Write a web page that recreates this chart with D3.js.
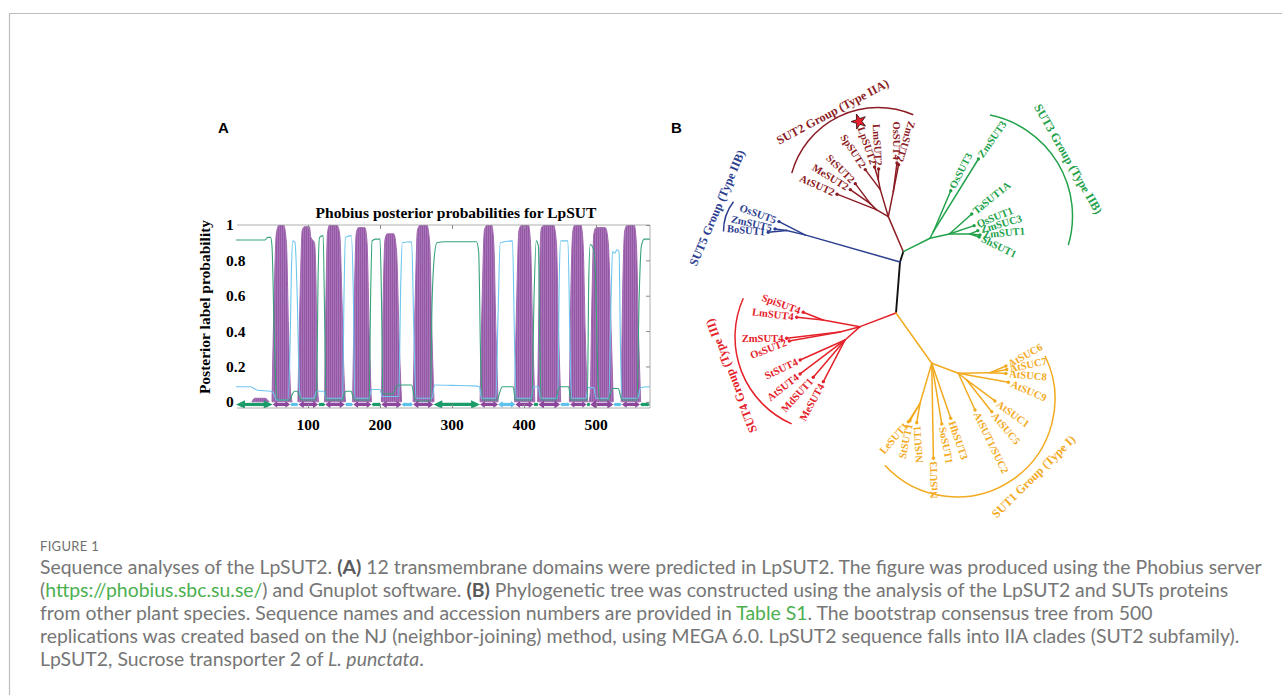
<!DOCTYPE html>
<html><head><meta charset="utf-8">
<script src="https://cdn.jsdelivr.net/npm/d3@7"></script>
<style>body{margin:0;background:#fff}svg{display:block}</style>
</head><body><svg id="c" width="1282" height="695"></svg>
<script>
// ================= DATA =================
// Panel A: Phobius posterior probabilities
const seqLength = 575;
const xTicks = [100, 200, 300, 400, 500];
const yTicks = [0, 0.2, 0.4, 0.6, 0.8, 1];
const yTickLabels = ["0", "0.2", "0.4", "0.6", "0.8", "1"];
// transmembrane posterior profiles [residue, probability]
const tmProfiles = [
  [[22,0],[26,0.02],[40,0.02],[46,0]],
  [[50,0],[53,0.6],[56,0.95],[60,1.0],[66,1.0],[70,0.9],[73,0.4],[76,0.05],[78,0]],
  [[86,0],[89,0.6],[92,0.97],[95,0.99],[102,0.99],[104,0.93],[109,0.9],[111,0.7],[113,0.1],[115,0]],
  [[123,0],[125,0.6],[127,0.95],[130,1.0],[140,1.0],[144,0.95],[147,0.6],[150,0.15],[152,0]],
  [[162,0],[164,0.5],[167,0.95],[170,0.985],[179,0.985],[182,0.9],[185,0.4],[188,0]],
  [[202,0],[204,0.5],[207,0.92],[210,0.95],[219,0.95],[223,0.85],[227,0.3],[230,0]],
  [[246,0],[249,0.6],[252,0.97],[256,1.0],[265,1.0],[269,0.9],[272,0.4],[275,0]],
  [[339,0],[342,0.6],[345,0.97],[349,1.0],[355,1.0],[358,0.9],[361,0.4],[364,0]],
  [[387,0],[390,0.6],[393,0.97],[397,1.0],[406,1.0],[409,0.9],[412,0.4],[415,0]],
  [[419,0],[421,0.6],[424,0.98],[428,1.0],[441,1.0],[445,0.9],[448,0.4],[451,0]],
  [[463,0],[465,0.6],[468,0.97],[471,1.0],[479,1.0],[482,0.9],[485,0.4],[488,0]],
  [[490,0],[492,0.05],[494,0.5],[497,0.95],[500,0.985],[513,0.985],[517,0.9],[521,0.4],[524,0]],
  [[535,0],[537,0.6],[540,0.97],[544,1.0],[553,1.0],[556,0.9],[559,0.4],[562,0]]
];
// non-cytoplasmic (green) posterior
const nonCytoProb = [[0,0.915],[40,0.915],[44,0.93],[48,0.93],[50,0.88],[53,0.4],[56,0.05],[58,0.01],[75,0.01],[78,0.04],[81,0.06],[85,0.06],[88,0.03],[92,0.01],[110,0.01],[112,0.06],[114,0.7],[116,0.93],[121,0.94],[123,0.5],[125,0.01],[148,0.01],[150,0.04],[153,0.06],[160,0.06],[163,0.02],[166,0.01],[185,0.01],[187,0.6],[189,0.91],[194,0.92],[200,0.92],[202,0.6],[204,0.05],[206,0.045],[218,0.045],[223,0.09],[230,0.095],[244,0.095],[248,0.02],[252,0.005],[270,0.005],[272,0.5],[275,0.8],[279,0.9],[290,0.905],[334,0.905],[337,0.85],[340,0.2],[343,0.01],[363,0.01],[366,0.05],[370,0.085],[385,0.085],[388,0.01],[411,0.01],[414,0.6],[417,0.91],[420,0.88],[422,0.3],[424,0.01],[444,0.01],[447,0.06],[450,0.085],[462,0.085],[465,0.01],[488,0.01],[490,0.7],[492,0.89],[496,0.87],[499,0.75],[503,0.1],[506,0.01],[517,0.01],[520,0.05],[524,0.075],[531,0.075],[535,0.02],[538,0.01],[557,0.01],[560,0.6],[563,0.88],[567,0.92],[575,0.92]];
// cytoplasmic (cyan) posterior
const cytoProb = [[0,0.085],[20,0.085],[25,0.075],[30,0.065],[48,0.06],[52,0.05],[56,0.01],[72,0.01],[75,0.3],[77,0.75],[79,0.91],[82,0.9],[85,0.6],[88,0.08],[90,0.02],[108,0.02],[112,0.06],[122,0.06],[125,0.02],[148,0.02],[150,0.6],[152,0.93],[160,0.94],[163,0.6],[165,0.02],[185,0.02],[188,0.07],[200,0.07],[203,0.03],[226,0.03],[229,0.7],[231,0.9],[244,0.905],[247,0.4],[250,0.02],[272,0.02],[276,0.095],[300,0.093],[330,0.09],[338,0.085],[341,0.02],[361,0.02],[364,0.5],[367,0.9],[384,0.91],[387,0.3],[389,0.02],[410,0.02],[413,0.085],[420,0.085],[423,0.02],[447,0.02],[449,0.7],[451,0.91],[461,0.91],[464,0.3],[466,0.02],[486,0.02],[489,0.08],[497,0.08],[500,0.02],[518,0.02],[521,0.6],[523,0.85],[526,0.84],[529,0.86],[532,0.85],[534,0.3],[536,0.02],[558,0.02],[562,0.08],[575,0.085]];
// predicted topology segments
const topoStart = [0,51,75,87,114,124,151,163,188,202,230,246,274,339,364,388,413,420,450,464,487,492,524,536,561];
const topoEnd   = [51,75,87,114,124,151,163,188,202,230,246,274,339,364,388,413,420,450,464,487,492,524,536,561,575];
const topoType  = ["o","M","i","M","o","M","i","M","o","M","i","M","o","M","i","M","o","M","i","M","o","M","i","M","o"];

// Panel B: NJ tree, edges [node, parent, branch length, branch direction (deg), clade]
const treeEdges = [
  ["R","",0,0,"root"],
  ["Jb","R",0.512,-85.5,"root"],
  ["J1","Jb",0.108,-72.2,"root"],
  ["B1","Jb",0.988,-164.1,"SUT5"],
  ["OsSUT5","B1",0.292,-152.9,"SUT5"],
  ["B2","B1",0.188,-166.8,"SUT5"],
  ["BoSUT1","B2",0.185,175,"SUT5"],
  ["ZmSUT5","B2",0.118,-171.7,"SUT5"],
  ["A","J1",0.381,-113.2,"SUT2"],
  ["Bn","A",0.139,-149.7,"SUT2"],
  ["AtSUT2","Bn",0.422,-158.5,"SUT2"],
  ["Cn","Bn",0.085,-135,"SUT2"],
  ["MeSUT2","Cn",0.244,-145,"SUT2"],
  ["StSUT2","Cn",0.25,-126.9,"SUT2"],
  ["Dn","A",0.282,-106.5,"SUT2"],
  ["SpSUT2","Dn",0.25,-126.9,"SUT2"],
  ["En","Dn",0.102,-101.3,"SUT2"],
  ["LpSUT2","En",0.132,-106.2,"SUT2"],
  ["LmSUT2","En",0.107,-88.4,"SUT2"],
  ["Fn","A",0.255,-78.7,"SUT2"],
  ["OsSUT4","Fn",0.289,-82.7,"SUT2"],
  ["ZmSUT2","Fn",0.275,-78.9,"SUT2"],
  ["G1","J1",0.299,-26.6,"SUT3"],
  ["G2","G1",0.074,-63.4,"SUT3"],
  ["OsSUT3","G2",0.445,-67,"SUT3"],
  ["ZmSUT3","G2",0.855,-58.2,"SUT3"],
  ["G3","G1",0.198,-12.6,"SUT3"],
  ["TaSUT1A","G3",0.30,-41.8,"SUT3"],
  ["OsSUT1","G3",0.261,-18.6,"SUT3"],
  ["G4","G3",0.207,0,"SUT3"],
  ["ZmSUC3","G4",0.084,-23.2,"SUT3"],
  ["ZmSUT1","G4",0.10,5.7,"SUT3"],
  ["ShSUT1","G4",0.095,18.4,"SUT3"],
  ["R1","R",0.385,159.2,"SUT4"],
  ["R2","R1",0.376,-169.7,"SUT4"],
  ["SpiSUT4","R2",0.212,-158.6,"SUT4"],
  ["LmSUT4","R2",0.264,-174.1,"SUT4"],
  ["R3","R1",0.207,165.2,"SUT4"],
  ["ZmSUT4","R3",0.537,173.3,"SUT4"],
  ["OsSUT2","R3",0.515,169.9,"SUT4"],
  ["R4","R1",0.20,138.4,"SUT4"],
  ["StSUT4","R4",0.492,156,"SUT4"],
  ["AtSUT4","R4",0.564,142.9,"SUT4"],
  ["MdSUT1","R4",0.49,130.4,"SUT4"],
  ["MeSUT4","R4",0.47,117.5,"SUT4"],
  ["O1","R",0.617,54.6,"SUT1"],
  ["O2","O1",0.284,20.6,"SUT1"],
  ["O3","O2",0.317,-1.1,"SUT1"],
  ["AtSUC6","O3",0.173,-22.7,"SUT1"],
  ["AtSUC7","O3",0.17,-10.8,"SUT1"],
  ["AtSUC8","O3",0.16,2.9,"SUT1"],
  ["AtSUC9","O2",0.508,10.2,"SUT1"],
  ["O4","O2",0.107,38.6,"SUT1"],
  ["AtSUC1","O4",0.352,36.6,"SUT1"],
  ["AtSUC5","O4",0.404,51.7,"SUT1"],
  ["AtSUT1/SUC2","O2",0.403,65.5,"SUT1"],
  ["O5","O1",0.417,106.3,"SUT1"],
  ["LeSUT1","O5",0.218,122.5,"SUT1"],
  ["StSUT1","O5",0.201,119.9,"SUT1"],
  ["NtSUT1","O5",0.197,99.7,"SUT1"],
  ["NtSUT3","O1",0.95,89,"SUT1"],
  ["SoSUT1","O1",0.615,80.6,"SUT1"],
  ["HbSUT3","O1",0.582,71,"SUT1"]
];
// outward direction of each leaf label (deg)
const leafLabelDir = {
  AtSUT2:-156, MeSUT2:-148, StSUT2:-135, SpSUT2:-123, LpSUT2:-109, LmSUT2:-93, OsSUT4:-90, ZmSUT2:-73,
  OsSUT5:-160, ZmSUT5:-167, BoSUT1:-175,
  OsSUT3:-63, ZmSUT3:-55, TaSUT1A:-39, OsSUT1:-22, ZmSUC3:-16, ZmSUT1:-5, ShSUT1:26,
  SpiSUT4:-160, LmSUT4:-173, ZmSUT4:180, OsSUT2:159, StSUT4:155, AtSUT4:142, MdSUT1:132, MeSUT4:119,
  AtSUC6:-29, AtSUC7:-12, AtSUC8:5, AtSUC9:23, AtSUC1:36, AtSUC5:50, "AtSUT1/SUC2":64, HbSUT3:71,
  SoSUT1:79, NtSUT3:89, NtSUT1:86, StSUT1:102, LeSUT1:131
};
const markedLeaf = "LpSUT2";
const groupClades = ["SUT2","SUT3","SUT4","SUT1","SUT5"];
const groupNames = ["SUT2 Group (Type IIA)","SUT3 Group (Type IIB)","SUT4 Group (Type III)","SUT1 Group (Type I)","SUT5 Group (Type IIB)"];

// Caption
const figureTitle = "FIGURE 1";
const captionLines = [
  [["Sequence analyses of the LpSUT2. ",""],["(A)","b"],[" 12 transmembrane domains were predicted in LpSUT2. The figure was produced using the Phobius server",""]],
  [["(",""],["https://phobius.sbc.su.se/","l"],[") and Gnuplot software. ",""],["(B)","b"],[" Phylogenetic tree was constructed using the analysis of the LpSUT2 and SUTs proteins",""]],
  [["from other plant species. Sequence names and accession numbers are provided in ",""],["Table S1","l"],[". The bootstrap consensus tree from 500",""]],
  [["replications was created based on the NJ (neighbor-joining) method, using MEGA 6.0. LpSUT2 sequence falls into IIA clades (SUT2 subfamily).",""]],
  [["LpSUT2, Sucrose transporter 2 of ",""],["L. punctata","i"],[".",""]]
];

// ================= DRAWING =================
const svg = d3.select("#c");
svg.append("rect").attr("width",1282).attr("height",695).attr("fill","#fff");
svg.append("path").attr("d","M9.5,695V13.5H1282").attr("fill","none").attr("stroke","#bdbdbd").attr("stroke-width",1.2);

const serif = "'Liberation Serif','Times New Roman',serif";
const sans = "'Liberation Sans',Arial,sans-serif";

// ---------- Panel A ----------
svg.append("text").attr("x",218).attr("y",133).text("A")
  .attr("font-family",sans).attr("font-weight","bold").attr("font-size",15);

const pA = {l:237, r:650, t:225, b:408};
const x = d3.scaleLinear().domain([0, seqLength]).range([236, pA.r]);
const y = d3.scaleLinear().domain([-0.035, 1]).range([pA.b, pA.t]);
const gA = svg.append("g");

const defs = svg.append("defs");
const pat = defs.append("pattern").attr("id","tmfill").attr("patternUnits","userSpaceOnUse").attr("width",2).attr("height",4);
pat.append("rect").attr("width",2).attr("height",4).attr("fill","#a872b8");
pat.append("rect").attr("width",0.8).attr("height",4).attr("fill","#8f52a1");
defs.append("clipPath").attr("id","clipA").append("rect").attr("x",pA.l-1).attr("y",pA.t).attr("width",pA.r-pA.l+1).attr("height",pA.b-pA.t);

const plot = gA.append("g").attr("clip-path","url(#clipA)");
const area = d3.area().x(d=>x(d[0])).y0(y(0)).y1(d=>y(d[1])).curve(d3.curveMonotoneX);
plot.selectAll("path.tm").data(tmProfiles).join("path").attr("class","tm")
  .attr("d",area).attr("fill","url(#tmfill)").attr("stroke","#a068b0").attr("stroke-width",1);

const line = d3.line().x(d=>x(d[0])).y(d=>y(d[1])).curve(d3.curveMonotoneX);
plot.append("path").attr("d",line(cytoProb)).attr("fill","none").attr("stroke","#6cc6ee").attr("stroke-width",1.1);
plot.append("path").attr("d",line(nonCytoProb)).attr("fill","none").attr("stroke","#35a27a").attr("stroke-width",1.1);

// topology track
const topoColor = {o:"#1c9b6b", M:"#8b479c", i:"#5fc2ec"};
const ty = y(-0.015);
topoStart.forEach((s,i)=>{
  const x0 = x(s), x1 = x(topoEnd[i]), ln = x1-x0;
  const hl = Math.min(9, ln*0.26), hw = hl>6 ? 4.2 : Math.max(1.8, hl*0.75);
  const c = topoColor[topoType[i]];
  plot.append("line").attr("x1",x0+hl*0.6).attr("x2",x1-hl*0.6).attr("y1",ty).attr("y2",ty)
    .attr("stroke",c).attr("stroke-width",3.2);
  plot.append("path").attr("fill",c)
    .attr("d",`M${x0},${ty}L${x0+hl},${ty-hw}L${x0+hl},${ty+hw}Z M${x1},${ty}L${x1-hl},${ty-hw}L${x1-hl},${ty+hw}Z`);
});

// frame (top, right, bottom) & inward ticks
gA.append("path").attr("d",`M${pA.l},${pA.t}H${pA.r}V${pA.b}H${pA.l}`)
  .attr("fill","none").attr("stroke","#9a9a9a").attr("stroke-width",0.8);
const tickStyle = g => { g.select(".domain").remove(); g.selectAll("line").attr("stroke","#8a8a8a"); };
gA.append("g").attr("transform",`translate(${pA.r},0)`).call(d3.axisRight(y).tickValues(yTicks).tickSize(-4).tickFormat("")).call(tickStyle);
gA.append("g").attr("transform",`translate(0,${pA.b})`).call(d3.axisBottom(x).tickValues(xTicks).tickSize(-4).tickFormat("")).call(tickStyle);
gA.append("g").attr("transform",`translate(0,${pA.t})`).call(d3.axisTop(x).tickValues(xTicks).tickSize(-4).tickFormat("")).call(tickStyle);

const fA = 15.5;
gA.selectAll("text.yt").data(yTicks).join("text").attr("class","yt")
  .attr("x",226).attr("y",d=>y(d)).attr("dy","0.35em").attr("text-anchor","start")
  .attr("font-family",serif).attr("font-weight","bold").attr("font-size",fA).text((d,i)=>yTickLabels[i]);
gA.selectAll("text.xt").data(xTicks).join("text").attr("class","xt")
  .attr("x",d=>x(d)).attr("y",430).attr("text-anchor","middle")
  .attr("font-family",serif).attr("font-weight","bold").attr("font-size",fA).text(d=>d);
gA.append("text").attr("transform","translate(210,307) rotate(-90)").attr("text-anchor","middle")
  .attr("font-family",serif).attr("font-weight","bold").attr("font-size",fA).text("Posterior label probability");
gA.append("text").attr("x",456).attr("y",218).attr("text-anchor","middle")
  .attr("font-family",serif).attr("font-weight","bold").attr("font-size",fA).text("Phobius posterior probabilities for LpSUT");

// ---------- Panel B ----------
svg.append("text").attr("x",671).attr("y",133).text("B")
  .attr("font-family",sans).attr("font-weight","bold").attr("font-size",15);

const cladeColor = {root:"#111111", SUT2:"#8c1c24", SUT3:"#22a24b", SUT4:"#e5212a", SUT1:"#f2aa1f", SUT5:"#2c3e90"};
const len = d3.scaleLinear().domain([0,1]).range([0,100]);
const treeOrigin = [896, 313];
const rad = a => a*Math.PI/180;
const root = d3.stratify().id(d=>d[0]).parentId(d=>d[1])(treeEdges);
root.eachBefore(n=>{
  if(!n.parent){ n.px = treeOrigin[0]; n.py = treeOrigin[1]; return; }
  const L = len(n.data[2]), a = rad(n.data[3]);
  n.px = n.parent.px + L*Math.cos(a); n.py = n.parent.py + L*Math.sin(a);
});
const gB = svg.append("g");
gB.selectAll("line.br").data(root.descendants().filter(n=>n.parent)).join("line").attr("class","br")
  .attr("x1",n=>n.parent.px).attr("y1",n=>n.parent.py).attr("x2",n=>n.px).attr("y2",n=>n.py)
  .attr("stroke",n=>cladeColor[n.data[4]]).attr("stroke-width",n=>n.data[4]==="root"?1.9:1.5).attr("stroke-linecap","round");
const leaves = root.leaves();
gB.selectAll("circle.tip").data(leaves).join("circle").attr("class","tip")
  .attr("cx",n=>n.px).attr("cy",n=>n.py).attr("r",1.7).attr("fill",n=>cladeColor[n.data[4]]);
leaves.forEach(n=>{
  const dir = leafLabelDir[n.id];
  const flip = dir > 82 || dir < -68;
  const gap = 3.2;
  const lx = n.px + gap*Math.cos(rad(dir)), ly = n.py + gap*Math.sin(rad(dir));
  const t = gB.append("text").attr("transform",`translate(${lx},${ly}) rotate(${flip?dir-180:dir})`)
    .attr("text-anchor",flip?"end":"start").attr("dominant-baseline","central")
    .attr("font-family",serif).attr("font-weight","bold").attr("font-size",10.6)
    .attr("fill",cladeColor[n.data[4]]).text(n.id);
  if(n.id===markedLeaf){
    const w = t.node().getComputedTextLength() + gap + 6;
    gB.append("path").attr("d",d3.symbol(d3.symbolStar, 70)())
      .attr("transform",`translate(${n.px + w*Math.cos(rad(dir))},${n.py + w*Math.sin(rad(dir))}) rotate(${dir+90})`)
      .attr("fill","#e8202e").attr("stroke","#3a1010").attr("stroke-width",0.8);
  }
});
// group arcs (centre offset from tree root in tree units, radius, start/end angle, label angle/offset)
const groupLayout = [
  {cx:-0.18, cy:-1.16, r:0.895, a0:-164.5, a1:-66.8, la:-118, lo:7, flip:false},
  {cx:0.735, cy:-0.97, r:1.03, a0:-78.5, a1:16.4, la:-30, lo:11, flip:false},
  {cx:-0.66, cy:0.24, r:0.95, a0:113.8, a1:204.1, la:158.5, lo:11, flip:false},
  {cx:0.61, cy:0.86, r:0.98, a0:-26, a1:137.4, la:45.4, lo:11, flip:true},
  {cx:-1.245, cy:-0.82, r:0.48, a0:179.3, a1:217.6, la:-157, lo:11, flip:false}
];
groupLayout.forEach((g,i)=>{
  const c = cladeColor[groupClades[i]];
  const cx = treeOrigin[0]+len(g.cx), cy = treeOrigin[1]+len(g.cy), r = len(g.r);
  const p = d3.path(); p.arc(cx, cy, r, rad(g.a0), rad(g.a1), false);
  gB.append("path").attr("d",p.toString()).attr("fill","none").attr("stroke",c).attr("stroke-width",1.5);
  const lr = r + g.lo;
  const tx = cx + lr*Math.cos(rad(g.la)), tyy = cy + lr*Math.sin(rad(g.la));
  gB.append("text").attr("transform",`translate(${tx},${tyy}) rotate(${g.flip?g.la-90:g.la+90})`)
    .attr("text-anchor","middle").attr("dominant-baseline","central")
    .attr("font-family",serif).attr("font-weight","bold").attr("font-size",12.2).attr("fill",c).text(groupNames[i]);
});

// ---------- Caption ----------
const capFont = "Lato,'Open Sans',sans-serif";
svg.append("text").attr("x",40).attr("y",551).attr("font-family",capFont).attr("font-size",13)
  .attr("fill","#707070").attr("letter-spacing",0.3).text(figureTitle);
const cap = svg.append("g").attr("font-family",capFont).attr("fill","#767676").style("white-space","pre");
const capTexts = captionLines.map((segs,i)=>{
  const t = cap.append("text").attr("x",40).attr("y",574+i*23).attr("font-size",16);
  segs.forEach(s=>{
    const sp = t.append("tspan").text(s[0]);
    if(s[1]==="b") sp.attr("font-weight","bold").attr("fill","#5a5a5a");
    if(s[1]==="l") sp.attr("fill","#4caf50");
    if(s[1]==="i") sp.attr("font-style","italic");
  });
  return t;
});
const w0 = capTexts[0].node().getComputedTextLength();
const fs = 16*1222/w0;
capTexts.forEach(t=>t.attr("font-size",fs));
</script></body></html>
